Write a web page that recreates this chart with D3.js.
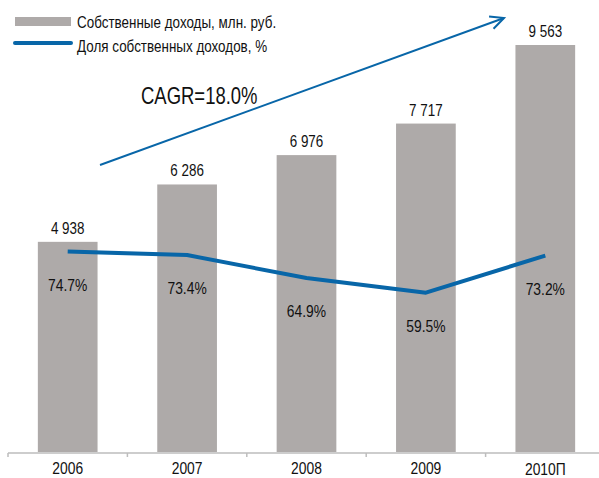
<!DOCTYPE html>
<html>
<head>
<meta charset="utf-8">
<script src="https://cdn.jsdelivr.net/npm/d3@7"></script>
<style>
  body { margin: 0; background: #fff; }
  svg { display: block; }
  text { font-family: "Liberation Sans", Arial, sans-serif; fill: #111; }
</style>
</head>
<body>
<svg></svg>
<script>
var width = 599;
var height = 478;
var years = ['2006', '2007', '2008', '2009', '2010П'];
var income = [4938, 6286, 6976, 7717, 9563];
var share = [74.7, 73.4, 64.9, 59.5, 73.2];
var incomeLabels = ['4 938', '6 286', '6 976', '7 717', '9 563'];

var barColor = '#aeaaa9';
var blue = '#0866a8';
var narrow = 0.84; // condensed look

var svg = d3.select('svg')
    .attr('width', width)
    .attr('height', height);

var baseY = 452;

var x = d3.scaleBand().domain(years).range([8, 605]).paddingInner(0.5).paddingOuter(0.25);
var y = d3.scaleLinear().domain([0, 9563]).range([baseY, 45]);
var y2 = d3.scaleLinear().domain([0, 150]).range([baseY + 1.5, 48]);

function narrowText(sel, px, py, sx) {
    return sel.attr('transform', `translate(${px},${py}) scale(${sx || narrow},1)`);
}

// bars
svg.selectAll('rect.bar')
    .data(income)
    .enter()
    .append('rect')
    .attr('class', 'bar')
    .attr('x', (d, i) => x(years[i]))
    .attr('width', x.bandwidth())
    .attr('y', d => y(d))
    .attr('height', d => baseY - y(d))
    .attr('fill', barColor);

// value labels
svg.selectAll('text.val')
    .data(income)
    .enter()
    .append('text')
    .attr('class', 'val')
    .attr('text-anchor', 'middle')
    .attr('transform', (d, i) => `translate(${x(years[i]) + x.bandwidth() / 2},${y(d) - 8}) scale(${narrow},1)`)
    .style('font-size', '16px')
    .text((d, i) => incomeLabels[i]);

// x axis
var step = x.step();
var gx = svg.append('g')
    .attr('transform', `translate(0,${baseY})`);
gx.append('line')
    .attr('x1', 8).attr('x2', width)
    .attr('y1', 1).attr('y2', 1)
    .attr('stroke', '#bdbdbd')
    .attr('stroke-width', 1.5);
gx.selectAll('line.sep')
    .data(years)
    .enter()
    .append('line')
    .attr('class', 'sep')
    .attr('x1', d => x(d) - step * 0.25)
    .attr('x2', d => x(d) - step * 0.25)
    .attr('y1', 1).attr('y2', 5)
    .attr('stroke', '#bdbdbd')
    .attr('stroke-width', 1.5);
gx.selectAll('text.year')
    .data(years)
    .enter()
    .append('text')
    .attr('class', 'year')
    .attr('text-anchor', 'middle')
    .attr('transform', d => `translate(${x(d) + x.bandwidth() / 2},${d === '2010П' ? 23 : 22}) scale(${narrow},1)`)
    .style('font-size', '16.5px')
    .text(d => d);

// share line
var line = d3.line()
    .x((d, i) => x(years[i]) + x.bandwidth() / 2)
    .y(d => y2(d));

svg.append('path')
    .datum(share)
    .attr('d', line)
    .attr('fill', 'none')
    .attr('stroke', blue)
    .attr('stroke-width', 4)
    .attr('stroke-linejoin', 'round');

svg.selectAll('text.pct')
    .data(share)
    .enter()
    .append('text')
    .attr('class', 'pct')
    .attr('text-anchor', 'middle')
    .attr('transform', (d, i) => `translate(${x(years[i]) + x.bandwidth() / 2},${y2(d) + 39}) scale(${narrow},1)`)
    .style('font-size', '16.5px')
    .text(d => d.toFixed(1) + '%');

// CAGR arrow
var ax1 = 100, ay1 = 165, ax2 = 504, ay2 = 18;
svg.append('line')
    .attr('x1', ax1).attr('y1', ay1)
    .attr('x2', ax2).attr('y2', ay2)
    .attr('stroke', blue)
    .attr('stroke-width', 2);
var ang = Math.atan2(ay2 - ay1, ax2 - ax1);
var headLen = 15, spread = 0.45;
svg.append('path')
    .attr('d', `M${ax2 - headLen * Math.cos(ang - spread)},${ay2 - headLen * Math.sin(ang - spread)}` +
               `L${ax2},${ay2}` +
               `L${ax2 - headLen * Math.cos(ang + spread)},${ay2 - headLen * Math.sin(ang + spread)}`)
    .attr('fill', 'none')
    .attr('stroke', blue)
    .attr('stroke-width', 2);

narrowText(svg.append('text'), 141, 104, 0.77)
    .style('font-size', '24px')
    .text('CAGR=18.0%');

// legend
svg.append('rect')
    .attr('x', 15).attr('y', 17)
    .attr('width', 56).attr('height', 9)
    .attr('fill', barColor);
narrowText(svg.append('text'), 77, 28)
    .style('font-size', '16px')
    .text('Собственные доходы, млн. руб.');
svg.append('line')
    .attr('x1', 15).attr('x2', 71)
    .attr('y1', 43).attr('y2', 43)
    .attr('stroke', blue)
    .attr('stroke-width', 4)
    .attr('stroke-linecap', 'round');
narrowText(svg.append('text'), 77, 52)
    .style('font-size', '16px')
    .text('Доля собственных доходов, %');
</script>
</body>
</html>
